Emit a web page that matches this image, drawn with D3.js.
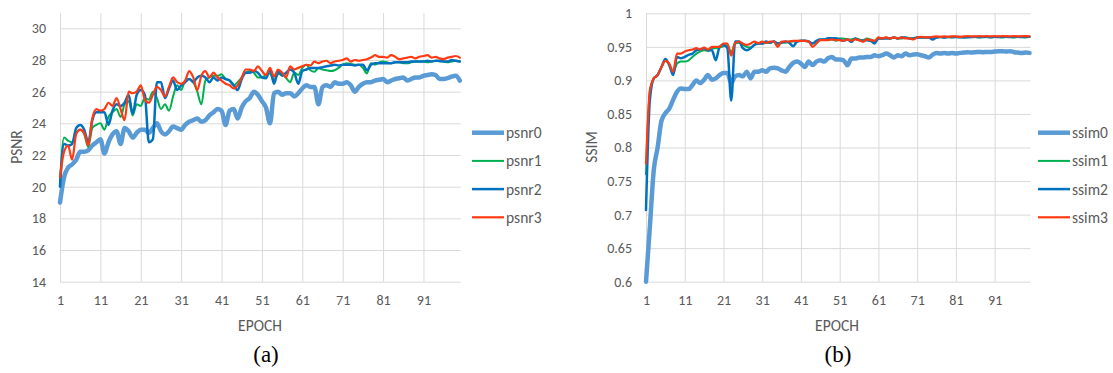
<!DOCTYPE html>
<html>
<head>
<meta charset="utf-8">
<script src="https://cdn.jsdelivr.net/npm/d3@7"></script>
<style>
  body { margin: 0; background: #fff; }
  svg { display: block; }
  .tick text { font-family: Calibri, Carlito, Lato, sans-serif; font-size: 14px; fill: #595959; }
  .grid line { stroke: #d9d9d9; stroke-width: 1; }
  .lbl { font-family: Calibri, Carlito, Lato, sans-serif; font-size: 15.5px; fill: #595959; }
  .cap { font-family: "Liberation Serif", "Times New Roman", serif; font-size: 23px; fill: #000; }
</style>
</head>
<body>
<svg id="chart" width="1113" height="373"></svg>
<script>
// epochs 1..100
const epochs = d3.range(1, 101);
const epochTicks = [1, 11, 21, 31, 41, 51, 61, 71, 81, 91];
const psnrTicks = [14, 16, 18, 20, 22, 24, 26, 28, 30];
const ssimTicks = [0.6, 0.65, 0.7, 0.75, 0.8, 0.85, 0.9, 0.95, 1];

const psnr0 = [19.0, 20.6, 21.2, 21.4, 21.7, 22.2, 22.2, 22.3, 22.6, 22.8,
  23.0, 22.1, 22.8, 23.3, 23.5, 22.7, 23.7, 23.5, 23.1, 23.4,
  23.6, 23.6, 23.4, 23.7, 24.0, 23.5, 23.3, 23.5, 23.8, 23.7,
  23.6, 23.9, 24.1, 24.2, 24.3, 24.1, 24.2, 24.5, 24.7, 24.9,
  24.8, 23.9, 24.8, 24.9, 24.3, 25.0, 25.4, 25.6, 26.0, 25.8,
  25.4, 25.0, 24.0, 25.9, 26.0, 25.8, 25.9, 25.9, 25.7, 25.9,
  26.2, 26.4, 26.3, 26.3, 25.2, 26.3, 26.4, 26.3, 26.6, 26.5,
  26.5, 26.6, 26.4, 26.0, 26.3, 26.5, 26.6, 26.6, 26.7, 26.75,
  26.8, 26.6, 26.7, 26.8, 26.85, 26.9, 26.7, 26.8, 26.9, 26.9,
  27.0, 27.05, 27.1, 27.05, 26.8, 26.8, 26.85, 26.95, 27.0, 26.7];
const psnr1 = [20.3, 23.1, 22.9, 22.8, 23.4, 23.6, 23.3, 22.5, 23.7, 23.9,
  24.0, 23.6, 24.4, 24.7, 24.9, 24.4, 25.2, 25.4, 24.5, 25.2,
  25.1, 25.6, 25.5, 26.0, 25.6, 24.9, 25.2, 24.8, 25.7, 26.4,
  26.1, 26.7, 26.8, 26.6, 26.0, 25.2, 26.7, 26.9, 27.0, 27.0,
  27.1, 26.8, 26.7, 26.4, 26.6, 26.9, 27.2, 27.3, 27.2, 26.9,
  26.9, 27.05, 27.15, 26.75, 27.1, 27.15, 26.85, 26.6, 27.2, 27.05,
  27.5, 27.7, 27.35, 27.25, 27.5, 27.4, 27.35, 27.3, 27.35, 27.5,
  27.7, 27.8, 27.75, 27.7, 27.7, 27.5, 27.15, 27.8, 27.7, 27.85,
  27.9, 27.85, 27.8, 27.85, 27.85, 27.8, 27.8, 27.85, 27.9, 27.9,
  27.9, 27.85, 27.9, 27.95, 27.9, 27.9, 27.85, 27.9, 27.95, 27.9];
const psnr2 = [20.0, 22.7, 22.6, 22.7, 23.7, 23.9, 23.6, 22.8, 24.2, 24.7,
  24.7, 24.7, 23.9, 24.8, 25.2, 25.1, 25.3, 25.8, 24.6, 25.8,
  26.1, 25.8, 22.8, 23.0, 26.6, 26.6, 25.6, 26.2, 26.7, 26.1,
  26.4, 26.6, 26.8, 26.6, 26.9, 27.0, 26.9, 26.6, 26.9, 26.7,
  26.9, 26.8, 26.7, 26.4, 26.1, 26.8, 27.2, 27.2, 27.3, 27.2,
  26.9, 26.85, 27.4, 26.5, 27.3, 27.0, 27.2, 27.4, 27.2, 26.5,
  27.3, 27.4, 27.5, 27.5, 27.5, 27.55, 27.6, 27.65, 27.7, 27.65,
  27.7, 27.7, 27.7, 27.65, 27.7, 27.7, 27.35, 27.7, 27.8, 27.8,
  27.8, 27.8, 27.8, 27.85, 27.85, 27.85, 27.85, 27.9, 27.9, 27.9,
  27.9, 27.95, 27.9, 27.95, 27.95, 27.9, 27.9, 28.0, 27.95, 27.9];
const psnr3 = [20.6, 22.2, 22.6, 21.7, 23.3, 23.6, 23.4, 22.6, 24.3, 24.9,
  24.8, 24.9, 25.3, 25.1, 25.6, 24.9, 24.2, 26.0, 25.9, 26.0,
  26.4, 25.5, 25.3, 25.8, 26.3, 26.1, 25.7, 26.3, 26.9, 26.6,
  26.5, 26.7, 27.3, 26.9, 26.1, 27.0, 27.3, 26.9, 27.2, 26.9,
  26.7, 26.5, 26.4, 26.2, 26.4, 26.9, 27.4, 27.4, 27.3, 27.6,
  27.3, 27.05, 27.5, 26.95, 27.4, 27.2, 26.9, 27.6, 27.4, 27.5,
  27.6, 27.7, 27.65, 27.9, 27.8, 27.9, 27.95, 27.8, 27.9, 27.95,
  28.0, 28.1, 27.9, 28.0, 27.95, 28.0, 28.05, 28.15, 28.3, 28.2,
  28.2, 28.15, 28.3, 28.2, 28.05, 28.1, 28.15, 28.2, 28.1, 28.2,
  28.25, 28.3, 28.15, 28.2, 28.1, 28.05, 28.15, 28.2, 28.25, 28.15];

const ssim0 = [0.600, 0.682, 0.766, 0.800, 0.840, 0.851, 0.858, 0.871, 0.883, 0.888,
  0.887, 0.887, 0.893, 0.900, 0.896, 0.901, 0.908, 0.901, 0.903, 0.908,
  0.911, 0.911, 0.896, 0.906, 0.908, 0.906, 0.913, 0.903, 0.913, 0.913,
  0.915, 0.913, 0.918, 0.919, 0.918, 0.915, 0.913, 0.920, 0.926, 0.928,
  0.925, 0.920, 0.928, 0.923, 0.928, 0.930, 0.928, 0.933, 0.935, 0.931,
  0.931, 0.930, 0.9225, 0.9325, 0.9325, 0.934, 0.934, 0.935, 0.935, 0.9375,
  0.936, 0.9375, 0.940, 0.9375, 0.934, 0.9375, 0.936, 0.940, 0.9375, 0.9385,
  0.939, 0.9375, 0.936, 0.934, 0.9385, 0.941, 0.940, 0.941, 0.940, 0.941,
  0.940, 0.941, 0.9415, 0.942, 0.9415, 0.942, 0.9425, 0.942, 0.9425, 0.9425,
  0.943, 0.9435, 0.9435, 0.943, 0.9435, 0.942, 0.9415, 0.941, 0.9415, 0.941];
const ssim1 = [0.760, 0.883, 0.903, 0.908, 0.920, 0.930, 0.923, 0.912, 0.925, 0.928,
  0.928, 0.930, 0.935, 0.940, 0.943, 0.945, 0.944, 0.947, 0.948, 0.949,
  0.951, 0.952, 0.942, 0.955, 0.956, 0.953, 0.950, 0.949, 0.953, 0.955,
  0.955, 0.956, 0.956, 0.958, 0.955, 0.957, 0.956, 0.958, 0.958, 0.958,
  0.959, 0.959, 0.958, 0.955, 0.958, 0.961, 0.961, 0.960, 0.961, 0.959,
  0.9625, 0.9625, 0.961, 0.961, 0.9625, 0.961, 0.960, 0.9625, 0.961, 0.959,
  0.9625, 0.9625, 0.964, 0.9625, 0.964, 0.9625, 0.9625, 0.964, 0.9625, 0.9625,
  0.964, 0.964, 0.964, 0.964, 0.964, 0.964, 0.9645, 0.964, 0.9645, 0.964,
  0.9645, 0.964, 0.9645, 0.964, 0.9645, 0.9645, 0.964, 0.9645, 0.9645, 0.964,
  0.9645, 0.9645, 0.964, 0.9645, 0.9645, 0.964, 0.9645, 0.9645, 0.964, 0.9645];
const ssim2 = [0.707, 0.871, 0.903, 0.908, 0.920, 0.932, 0.923, 0.908, 0.935, 0.933,
  0.935, 0.938, 0.940, 0.945, 0.946, 0.948, 0.945, 0.945, 0.930, 0.950,
  0.953, 0.948, 0.870, 0.958, 0.958, 0.948, 0.945, 0.948, 0.953, 0.955,
  0.955, 0.958, 0.956, 0.958, 0.955, 0.956, 0.958, 0.956, 0.951, 0.958,
  0.959, 0.959, 0.958, 0.955, 0.959, 0.961, 0.961, 0.963, 0.963, 0.963,
  0.961, 0.959, 0.961, 0.9575, 0.9625, 0.960, 0.959, 0.960, 0.959, 0.955,
  0.9625, 0.9625, 0.9625, 0.9625, 0.964, 0.9625, 0.964, 0.964, 0.9625, 0.9625,
  0.964, 0.964, 0.964, 0.964, 0.961, 0.964, 0.9645, 0.964, 0.9645, 0.9645,
  0.9645, 0.9645, 0.964, 0.9645, 0.9645, 0.965, 0.9645, 0.9645, 0.965, 0.9645,
  0.965, 0.9645, 0.965, 0.965, 0.9645, 0.965, 0.965, 0.9645, 0.965, 0.965];
const ssim3 = [0.776, 0.886, 0.903, 0.908, 0.920, 0.929, 0.925, 0.913, 0.940, 0.940,
  0.943, 0.945, 0.946, 0.948, 0.946, 0.949, 0.946, 0.950, 0.950, 0.950,
  0.955, 0.955, 0.937, 0.956, 0.958, 0.955, 0.953, 0.955, 0.958, 0.955,
  0.958, 0.956, 0.958, 0.958, 0.950, 0.958, 0.958, 0.958, 0.959, 0.959,
  0.959, 0.959, 0.958, 0.950, 0.955, 0.960, 0.960, 0.960, 0.961, 0.960,
  0.960, 0.959, 0.961, 0.959, 0.961, 0.960, 0.9575, 0.961, 0.960, 0.959,
  0.964, 0.9625, 0.964, 0.9625, 0.964, 0.9625, 0.964, 0.9625, 0.9625, 0.961,
  0.964, 0.965, 0.964, 0.964, 0.965, 0.9655, 0.965, 0.9655, 0.965, 0.9655,
  0.9655, 0.965, 0.9655, 0.966, 0.9655, 0.9655, 0.966, 0.9655, 0.966, 0.9655,
  0.966, 0.9655, 0.966, 0.966, 0.9655, 0.966, 0.9655, 0.966, 0.966, 0.9655];

const colors = ["#5b9bd5", "#00b050", "#0070c0", "#ff3a12"];
const widths = [4.5, 2, 2.5, 2.2];

const svg = d3.select("#chart");
svg.append("rect").attr("width", 1113).attr("height", 373).attr("fill", "#fff");

function drawChart(opt) {
  let x = d3.scaleLinear().domain([1, 100]).range([opt.left, opt.right]);
  let y = d3.scaleLinear().domain(opt.domain).range([281.7, opt.yTop]);
  let g = svg.append("g");

  // horizontal grid + y labels
  g.append("g")
    .attr("class", "grid")
    .attr("transform", "translate(" + opt.left + ",0)")
    .call(d3.axisLeft(y).tickValues(opt.yTicks).tickSize(-(opt.right - opt.left + 1)).tickPadding(14).tickFormat(d => d3.format("~g")(d)))
    .call(a => a.select(".domain").remove());

  // vertical grid + x labels
  g.append("g")
    .attr("class", "grid")
    .attr("transform", "translate(0,281.7)")
    .call(d3.axisBottom(x).tickValues(epochTicks).tickSize(-(281.7 - 13)).tickPadding(13))
    .call(a => a.select(".domain").remove());

  let line = d3.line()
    .x((d, i) => x(epochs[i]))
    .y(d => y(d))
    .curve(d3.curveMonotoneX);

  opt.series.forEach((s, i) => {
    g.append("path")
      .datum(s)
      .attr("fill", "none")
      .attr("stroke", colors[i])
      .attr("stroke-width", widths[i])
      .attr("stroke-linejoin", "round")
      .attr("stroke-linecap", "round")
      .attr("d", line);
  });

  // legend
  opt.names.forEach((n, i) => {
    let ly = 132.7 + i * 28.2;
    g.append("line")
      .attr("x1", opt.legX).attr("x2", opt.legX + 32)
      .attr("y1", ly).attr("y2", ly)
      .attr("stroke", colors[i]).attr("stroke-width", widths[i]);
    g.append("text")
      .attr("class", "lbl")
      .attr("x", opt.legX + 34).attr("y", ly)
      .attr("dy", "0.35em")
      .text(n);
  });

  g.append("text")
    .attr("class", "lbl")
    .attr("text-anchor", "middle")
    .attr("transform", "translate(" + opt.titleX + ",147) rotate(-90)")
    .attr("dy", "0.35em")
    .text(opt.title);

  g.append("text")
    .attr("class", "lbl")
    .attr("text-anchor", "middle")
    .attr("x", opt.epochX).attr("y", 326)
    .attr("dy", "0.35em")
    .text("EPOCH");

  g.append("text")
    .attr("class", "cap")
    .attr("text-anchor", "middle")
    .attr("x", opt.capX).attr("y", 362)
    .text(opt.cap);
}

drawChart({
  left: 60, right: 459.8, yTop: 28.3, domain: [14, 30], yTicks: psnrTicks,
  series: [psnr0, psnr1, psnr2, psnr3], names: ["psnr0", "psnr1", "psnr2", "psnr3"],
  legX: 472, title: "PSNR", titleX: 17, epochX: 260, capX: 266, cap: "(a)"
});

drawChart({
  left: 646, right: 1029.5, yTop: 13.3, domain: [0.6, 1], yTicks: ssimTicks,
  series: [ssim0, ssim1, ssim2, ssim3], names: ["ssim0", "ssim1", "ssim2", "ssim3"],
  legX: 1038, title: "SSIM", titleX: 592, epochX: 837, capX: 838, cap: "(b)"
});
</script>
</body>
</html>
